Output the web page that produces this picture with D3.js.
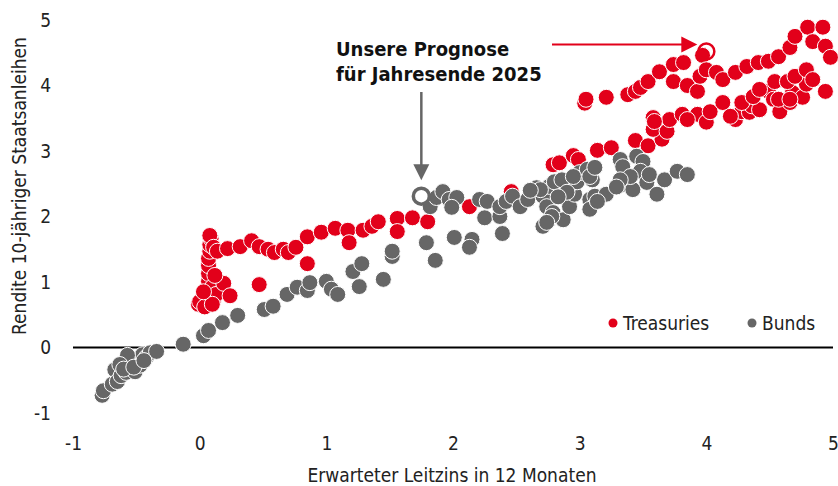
<!DOCTYPE html>
<html><head><meta charset="utf-8">
<script src="https://cdn.jsdelivr.net/npm/d3@7"></script>
<style>
body{margin:0;background:#fff;}
text{font-family:"Liberation Sans Narrow","DejaVu Sans Condensed","Roboto Condensed",sans-serif;}
</style></head><body>
<svg id="c" width="838" height="486"></svg>
<script>
const xTicks = [-1,0,1,2,3,4,5];
const yTicks = [-1,0,1,2,3,4,5];
const seriesNames = ["Treasuries","Bunds"];
const treasuriesX = [-0.01,0.02,0.05,0.08,0.11,0.06,0.07,0.07,0.07,0.07,0.08,0.08,0.09,0.08,0.11,0.14,0.10,0.13,0.19,0.24,0.22,0.32,0.41,0.47,0.47,0.54,0.59,0.66,0.70,0.76,0.85,0.85,0.96,1.07,1.17,1.18,1.29,1.36,1.41,1.56,1.56,1.68,1.80,2.13,2.46,2.79,2.84,2.95,2.99,3.14,3.25,3.44,3.54,3.65,3.58,3.69,3.71,3.81,3.93,4.00,4.03,4.13,4.23,4.28,4.34,4.36,4.42,4.49,4.53,4.58,4.66,4.68,4.76,4.79,4.94,4.57,4.19,3.58,3.59,3.85,3.04,3.05,3.21,3.38,3.44,3.48,3.54,3.63,3.74,3.82,3.97,3.74,3.85,3.93,3.95,4.00,4.08,4.13,4.23,4.32,4.41,4.49,4.57,4.66,4.70,4.80,4.92,4.84,4.94,4.98,4.28,4.37,4.54,4.64,4.70,4.79,4.84,4.66,4.42,0.00,0.04,0.10,0.03,0.12];
const treasuriesY = [0.66,0.73,0.67,0.78,0.73,0.89,1.01,1.13,1.25,1.36,1.47,1.57,1.66,1.71,1.53,1.47,0.92,0.81,0.98,0.79,1.51,1.54,1.63,1.54,0.96,1.50,1.45,1.50,1.45,1.53,1.28,1.69,1.76,1.82,1.79,1.60,1.79,1.85,1.92,1.97,1.77,1.98,1.92,2.15,2.38,2.79,2.82,2.93,2.87,3.01,3.05,3.16,3.08,3.18,3.33,3.30,3.48,3.56,3.56,3.44,3.60,3.74,3.48,3.60,3.59,3.69,3.63,3.91,3.79,3.60,3.74,3.89,3.82,4.02,3.91,3.79,3.53,3.51,3.45,3.48,3.73,3.79,3.82,3.86,3.91,3.97,4.06,4.21,4.32,4.35,4.46,4.06,4.00,3.91,4.14,4.24,4.20,4.09,4.20,4.29,4.35,4.37,4.44,4.58,4.75,4.89,4.89,4.67,4.60,4.43,3.74,3.83,4.06,4.06,4.14,4.24,4.09,3.79,3.94,0.70,0.62,0.66,0.85,1.10];
const bundsX = [-0.77,-0.76,-0.69,-0.67,-0.65,-0.62,-0.59,-0.58,-0.55,-0.54,-0.51,-0.49,-0.47,-0.45,-0.42,-0.39,-0.34,-0.57,-0.63,-0.13,0.03,0.07,0.18,0.30,0.51,0.58,0.69,0.77,0.85,0.87,1.00,1.04,1.09,1.21,1.28,1.26,1.45,1.52,1.52,1.79,1.86,2.01,2.15,2.39,2.25,2.37,1.82,1.87,1.92,1.97,2.03,1.99,2.21,2.27,2.37,2.42,2.47,2.53,2.59,2.66,2.71,2.76,2.80,2.74,2.71,2.76,2.79,2.87,2.92,2.96,2.91,2.86,2.98,3.00,3.06,3.10,3.08,3.12,3.08,3.21,3.14,3.32,3.34,3.45,3.50,3.48,3.34,3.42,3.53,3.61,3.67,3.77,3.85,3.55,3.40,3.32,2.69,2.90,2.95,3.08,3.12,2.78,2.74,2.13,2.61,2.83,3.29,-0.60,-0.52,-0.44];
const bundsY = [-0.73,-0.66,-0.56,-0.34,-0.52,-0.43,-0.27,-0.38,-0.18,-0.23,-0.37,-0.18,-0.27,-0.11,-0.15,-0.08,-0.06,-0.12,-0.26,0.05,0.18,0.26,0.38,0.49,0.58,0.63,0.81,0.92,0.87,0.99,1.01,0.89,0.81,1.16,1.28,0.93,1.04,1.39,1.47,1.60,1.33,1.68,1.65,1.74,1.98,2.00,2.15,2.29,2.38,2.26,2.29,2.14,2.26,2.23,2.15,2.23,2.31,2.15,2.26,2.44,2.31,2.46,2.53,2.15,1.85,1.95,2.06,1.95,2.15,2.34,2.46,2.56,2.53,2.67,2.72,2.56,2.26,2.31,2.11,2.34,2.23,2.87,2.76,2.92,2.84,2.69,2.49,2.41,2.52,2.34,2.56,2.69,2.64,2.64,2.61,2.56,2.41,2.37,2.61,2.61,2.75,2.00,1.91,1.53,2.40,2.30,2.45,-0.33,-0.30,-0.20];
const forecastUS = [4.0, 4.52];
const forecastDE = [1.75, 2.31];
const annotationLines = ["Unsere Prognose","für Jahresende 2025"];
const xTitle = "Erwarteter Leitzins in 12 Monaten";
const yTitle = "Rendite 10-jähriger Staatsanleihen";

const RED = "#e2001a", GREY = "#666666";
const svg = d3.select("#c");
const x = d3.scaleLinear().domain([-1,5]).range([73,833]);
const y = d3.scaleLinear().domain([-1,5]).range([413,20]);

svg.append("line").attr("x1",x(-1)).attr("x2",x(5)).attr("y1",y(0)).attr("y2",y(0))
  .attr("stroke","#000").attr("stroke-width",2);

const fmt = d => String(d);
const gx = svg.append("g").attr("transform",`translate(0,${y(-1)+20})`)
  .call(d3.axisBottom(x).tickValues(xTicks).tickSize(0).tickFormat(fmt));
const gy = svg.append("g").attr("transform",`translate(${x(-1)-19},0)`)
  .call(d3.axisLeft(y).tickValues(yTicks).tickSize(0).tickFormat(fmt));
[gx,gy].forEach(g=>{g.select(".domain").remove();
  g.selectAll("text").attr("font-size",19).attr("fill","#222")
   .attr("font-family",'"Liberation Sans Narrow","DejaVu Sans Condensed",sans-serif');});

svg.append("text").attr("x",452).attr("y",482).attr("text-anchor","middle")
  .attr("font-size",19).attr("fill","#222").text(xTitle);
svg.append("text").attr("transform","translate(26,186) rotate(-90)").attr("text-anchor","middle")
  .attr("font-size",19).attr("fill","#222").text(yTitle);

const tre = treasuriesX.map((v,i)=>[v,treasuriesY[i]]);
const bun = bundsX.map((v,i)=>[v,bundsY[i]]);
svg.append("g").selectAll("circle").data(tre).join("circle")
  .attr("cx",d=>x(d[0])).attr("cy",d=>y(d[1])).attr("r",8)
  .attr("fill",RED).attr("stroke","#fff").attr("stroke-width",1);
svg.append("g").selectAll("circle").data(bun).join("circle")
  .attr("cx",d=>x(d[0])).attr("cy",d=>y(d[1])).attr("r",8)
  .attr("fill",GREY).attr("stroke","#fff").attr("stroke-width",1);

svg.append("circle").attr("cx",x(forecastDE[0])).attr("cy",y(forecastDE[1])).attr("r",8)
  .attr("fill","#fff").attr("stroke",GREY).attr("stroke-width",3.5);
svg.append("circle").attr("cx",x(forecastUS[0])).attr("cy",y(forecastUS[1])).attr("r",8)
  .attr("fill","none").attr("stroke",RED).attr("stroke-width",2.5);

const ax = x(forecastDE[0]), ay = y(forecastDE[1]);
svg.append("line").attr("x1",ax).attr("x2",ax).attr("y1",92).attr("y2",ay-28)
  .attr("stroke",GREY).attr("stroke-width",2.5);
svg.append("path").attr("d",`M${ax-8},${ay-32} L${ax+8},${ay-32} L${ax},${ay-16} Z`).attr("fill",GREY);
const rx = x(forecastUS[0]), ry = y(forecastUS[1]);
svg.append("line").attr("x1",552).attr("x2",rx-22).attr("y1",ry-7).attr("y2",ry-7)
  .attr("stroke",RED).attr("stroke-width",2);
svg.append("path").attr("d",`M${rx-25},${ry-15} L${rx-25},${ry+1} L${rx-9},${ry-7} Z`).attr("fill",RED);

svg.append("g").selectAll("text").data(annotationLines).join("text")
  .attr("x",336).attr("y",(d,i)=>56+i*25).attr("font-size",20).attr("font-weight","bold")
  .attr("fill","#111").text(d=>d);

const leg = [{n:seriesNames[0],c:RED,x:613},{n:seriesNames[1],c:GREY,x:752}];
leg.forEach(l=>{
  svg.append("circle").attr("cx",l.x).attr("cy",323).attr("r",4.5).attr("fill",l.c);
  svg.append("text").attr("x",l.x+10).attr("y",330).attr("font-size",19).attr("fill","#222").text(l.n);
});
</script></body></html>
